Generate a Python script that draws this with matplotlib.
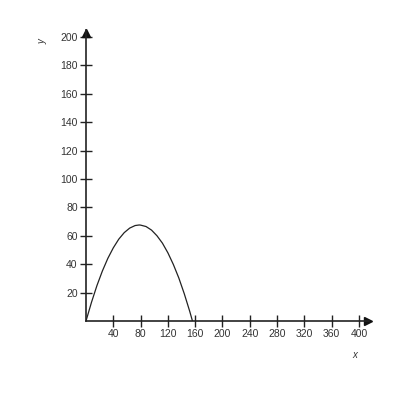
import matplotlib
matplotlib.use('Agg')
import matplotlib.pyplot as plt

# points
curve_x = [0, 8, 16, 24, 32, 40, 48, 56, 64, 72, 78, 80, 88, 96, 104, 112, 120, 128, 136, 144, 152, 156]
curve_y = [0, 13.1, 24.9, 35.2, 44.1, 51.5, 57.6, 62.2, 65.4, 67.2, 67.6, 67.5, 66.5, 64.0, 60.0, 54.8, 48.0, 39.8, 30.3, 19.2, 6.8, 0]

x_ticks = [40, 80, 120, 160, 200, 240, 280, 320, 360, 400]
y_ticks = [20, 40, 60, 80, 100, 120, 140, 160, 180, 200]

plt.rcParams['font.family'] = ['Liberation Sans', 'DejaVu Sans']

fig = plt.figure(figsize=(4, 4), dpi=100)
ax = fig.add_axes([0.215, 0.1975, 0.708, 0.728])

ax.plot(curve_x, curve_y, color='#222222', linewidth=0.9)

ax.set_xlim(0, 415)
ax.set_ylim(0, 205)
for s in ['top', 'right']:
    ax.spines[s].set_visible(False)
for s in ['left', 'bottom']:
    ax.spines[s].set_linewidth(1.2)
    ax.spines[s].set_color('#222222')

# arrow heads
ax.plot(413, 0, marker='>', color='#111111', markersize=5.5, clip_on=False)
ax.plot(0, 203, marker='^', color='#111111', markersize=5.5, clip_on=False)

ax.set_xticks(x_ticks)
ax.set_yticks(y_ticks)
ax.tick_params(direction='inout', length=8, width=1, colors='#222222',
               labelsize=7.5, labelcolor='#333333', pad=2)

ax.text(-0.152, 0.96, 'y', transform=ax.transAxes, rotation=90, fontsize=7,
        style='italic', color='#333333', ha='center', va='center')
ax.text(0.95, -0.117, 'x', transform=ax.transAxes, fontsize=7,
        style='italic', color='#333333', ha='center', va='center')

fig.savefig('out.png', dpi=100)
